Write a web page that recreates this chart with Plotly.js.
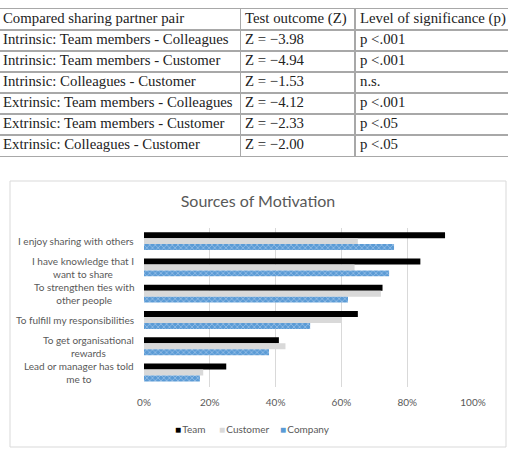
<!DOCTYPE html>
<html>
<head>
<meta charset="utf-8">
<script src="https://cdn.plot.ly/plotly-3.0.1.min.js"></script>
<style>
  html, body { margin: 0; padding: 0; background: #fff; }
  #chart { width: 518px; height: 453px; }
</style>
</head>
<body>
<div id="chart"></div>
<script>
// Wilcoxon comparison table
const tableHeaders = ['Compared sharing partner pair', 'Test outcome (Z)', 'Level of significance (p)'];
const comparedPairs = [
  'Intrinsic: Team members - Colleagues',
  'Intrinsic: Team members - Customer',
  'Intrinsic: Colleagues - Customer',
  'Extrinsic: Team members - Colleagues',
  'Extrinsic: Team members - Customer',
  'Extrinsic: Colleagues - Customer'
];
const zValues = [-3.98, -4.94, -1.53, -4.12, -2.33, -2.00];
const significance = ['p <.001', 'p <.001', 'n.s.', 'p <.001', 'p <.05', 'p <.05'];

// Sources of motivation, share of respondents per sharing partner
const reasons = [
  'I enjoy sharing with others',
  'I have knowledge that I<br>want to share',
  'To strengthen ties with<br>other people',
  'To fulfill my responsibilities',
  'To get organisational<br>rewards',
  'Lead or manager has told<br>me to'
];
const team     = [0.915, 0.84, 0.725, 0.65, 0.41, 0.25];
const customer = [0.65, 0.64, 0.72, 0.60, 0.43, 0.18];
const company  = [0.76, 0.745, 0.62, 0.505, 0.38, 0.17];
const seriesNames = ['Team', 'Customer', 'Company'];
const seriesColors = ['#000000', '#d9d9d9', '#5b9bd5'];
const xTicks = [0, 0.2, 0.4, 0.6, 0.8, 1.0];

// page pixel -> paper fraction (margins are zero, so paper == page)
const W = 518, H = 453;
const px = x => x / W;
const py = y => 1 - y / H;

const zText = zValues.map(v => 'Z = ' + (v < 0 ? '\u2212' : '') + Math.abs(v).toFixed(2));

const serif = { family: 'Liberation Serif, serif', size: 14.8, color: '#222222' };
const sans = { family: 'Lato, sans-serif', size: 10, color: '#595959' };
const ruleColor = '#a8a8a8';

// ---- table: a cartesian grid of text, one row per table line ----
const tableColumns = [
  [tableHeaders[0]].concat(comparedPairs),
  [tableHeaders[1]].concat(zText),
  [tableHeaders[2]].concat(significance)
];
const rowIndex = tableColumns[0].map((_, i) => i);
const colEdges = [240.5, 355];          // vertical rules, in table px units
const colTextStart = [3, 245, 360];     // left edge of each column's text
const tableWidth = 508;
const tableTop = 9, rowH = 21;
const tableBottom = tableTop + rowH * rowIndex.length;

const tableTraces = tableColumns.map((col, c) => ({
  type: 'scatter', mode: 'text',
  x: rowIndex.map(() => colTextStart[c]), y: rowIndex,
  text: col, textposition: 'middle right', textfont: serif,
  xaxis: 'x2', yaxis: 'y2', showlegend: false, hoverinfo: 'skip', cliponaxis: false
}));

// ---- grouped horizontal bars ----
const barStyle = [
  { color: seriesColors[0] },
  { color: seriesColors[1] },
  { color: seriesColors[2], pattern: { shape: 'x', bgcolor: seriesColors[2], fgcolor: '#a9caec', size: 4, solidity: 0.28 } }
];
const bars = [team, customer, company].map((vals, i) => ({
  type: 'bar',
  orientation: 'h',
  name: seriesNames[i],
  y: reasons,
  x: vals,
  xaxis: 'x',
  yaxis: 'y',
  marker: Object.assign({ line: { width: 0 } }, barStyle[i]),
  showlegend: false,
  hoverinfo: 'skip'
}));

// chart frame
const shapes = [{
  type: 'rect', xref: 'paper', yref: 'paper', x0: px(10), x1: px(506), y0: py(447), y1: py(181),
  line: { color: '#d9d9d9', width: 1 }, layer: 'below'
}];

// category labels, centred line by line
const annotations = reasons.map(r => ({
  text: r, xref: 'paper', x: px(136), xanchor: 'right', yref: 'y', y: r, yanchor: 'middle',
  align: 'center', showarrow: false, font: sans
}));

// compact legend row below the axis
const legendStarts = [173, 217, 278];
seriesNames.forEach((name, i) => annotations.push({
  text: '<span style="color:' + seriesColors[i] + '">\u25A0</span>\u2009' + name,
  xref: 'paper', yref: 'paper', x: px(legendStarts[i]), xanchor: 'left', y: py(429), yanchor: 'middle',
  showarrow: false, font: sans
}));

const layout = {
  width: W, height: H,
  margin: { l: 0, r: 0, t: 0, b: 0, pad: 0 },
  paper_bgcolor: '#ffffff', plot_bgcolor: 'rgba(0,0,0,0)',
  title: { text: 'Sources of Motivation', x: px(258), xanchor: 'center', y: py(201), yanchor: 'middle',
    font: { family: 'Lato, sans-serif', size: 16, color: '#595959' } },
  barmode: 'group', bargap: 0.32, bargroupgap: 0,
  xaxis: {
    domain: [px(144), px(473)], range: [0, 1], tickvals: xTicks, tickformat: '.0%',
    showgrid: true, gridcolor: '#d9d9d9', gridwidth: 1, zeroline: false, showline: false,
    ticks: '', ticklabelstandoff: 8, tickfont: sans, fixedrange: true, anchor: 'y'
  },
  yaxis: {
    domain: [py(387), py(228)], autorange: 'reversed', type: 'category',
    showticklabels: false, showgrid: false, zeroline: false, showline: false, fixedrange: true, anchor: 'x'
  },
  xaxis2: {
    domain: [0, px(tableWidth)], range: [0, tableWidth], anchor: 'y2',
    tickvals: colEdges, showticklabels: false, ticks: '',
    showgrid: true, gridcolor: ruleColor, gridwidth: 1.1, zeroline: false,
    showline: true, mirror: true, linecolor: ruleColor, linewidth: 1.4, fixedrange: true
  },
  yaxis2: {
    domain: [py(tableBottom), py(tableTop)], range: [rowIndex.length - 0.5, -0.5], anchor: 'x2',
    tickvals: rowIndex.slice(1).map(i => i - 0.5), showticklabels: false, ticks: '',
    showgrid: true, gridcolor: ruleColor, gridwidth: 1.1, zeroline: false, showline: false, fixedrange: true
  },
  showlegend: false,
  shapes: shapes,
  annotations: annotations
};

Plotly.newPlot('chart', tableTraces.concat(bars), layout, { displayModeBar: false, staticPlot: true });
</script>
</body>
</html>
